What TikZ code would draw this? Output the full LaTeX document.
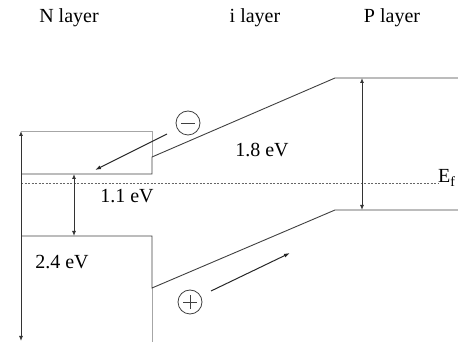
\documentclass[tikz,border=0pt]{standalone}
\usepackage{fontspec}
\setmainfont{Liberation Serif}
\usetikzlibrary{arrows.meta}
\begin{document}
\begin{tikzpicture}[x=1pt,y=-1pt,
  band/.style={draw=black!75,line width=0.9pt},
  boxline/.style={draw=black!35,line width=0.9pt},
  dim/.style={draw=black!80,line width=0.9pt,{Latex[length=5pt,width=4pt]}-{Latex[length=5pt,width=4pt]}},
  carrier/.style={draw=black!85,line width=1pt,-{Latex[length=6pt,width=4pt]}},
  lbl/.style={font=\fontsize{20}{22}\selectfont,inner sep=0pt},
  charge/.style={circle,draw=black!75,line width=0.8pt,minimum size=24pt,inner sep=0pt}]
\useasboundingbox (0,0) rectangle (458,344);
% titles
\node[lbl] (tN) at (69,18) {N layer};
\node[lbl] (tI) at (255,18) {i layer};
\node[lbl] (tP) at (392,18) {P layer};
% coordinates
\coordinate (ntop) at (21,131);
\coordinate (nbot) at (21,341);
\coordinate (boxtr) at (152,131);
\coordinate (cbL) at (21,174);
\coordinate (cbR) at (152,174);
\coordinate (cbS) at (152,157);
\coordinate (cbP) at (335,78);
\coordinate (cbE) at (458,78);
\coordinate (vbL) at (21,236);
\coordinate (vbR) at (152,236);
\coordinate (vbS) at (152,288);
\coordinate (vbB) at (152,342);
\coordinate (vbP) at (335,210);
\coordinate (vbE) at (458,210);
\coordinate (efL) at (21,183);
\coordinate (efR) at (438,183);
\coordinate (d1t) at (74,174);
\coordinate (d1b) at (74,236);
\coordinate (d2t) at (362,78);
\coordinate (d2b) at (362,210);
% grey box outline
\draw[boxline] (ntop) -- (boxtr) -- (cbS);
\draw[boxline] (vbS) -- (vbB);
% bands
\draw[band] (cbL) -- (cbR) -- (cbS) -- (cbP) -- (cbE);
\draw[band] (vbL) -- (vbR) -- (vbS) -- (vbP) -- (vbE);
% Fermi level
\draw[draw=black!60,line width=0.8pt,dash pattern=on 2pt off 1.5pt] (efL) -- (efR);
\node[lbl,anchor=west] (ef) at (438,178) {E\textsubscript{f}};
% dimension arrows
\draw[dim] (ntop) -- (nbot);
\draw[dim] (d1t) -- (d1b);
\draw[dim] (d2t) -- (d2b);
% labels
\node[lbl] (l11) at (127,196) {1.1 eV};
\node[lbl] (l24) at (62,262) {2.4 eV};
\node[lbl] (l18) at (262,150) {1.8 eV};
% carriers
\node[charge] (minus) at (188,123) {};
\draw[black!75,line width=0.8pt] ([xshift=-7pt]minus.center) -- ([xshift=7pt]minus.center);
\node[charge] (plus) at (190,302) {};
\draw[black!75,line width=0.8pt] ([xshift=-7pt]plus.center) -- ([xshift=7pt]plus.center);
\draw[black!75,line width=0.8pt] ([yshift=-7pt]plus.center) -- ([yshift=7pt]plus.center);
\coordinate (mA) at (167,134);
\coordinate (mB) at (95,170);
\coordinate (pA) at (211,291);
\coordinate (pB) at (290,253);
\draw[carrier] (mA) -- (mB);
\draw[carrier] (pA) -- (pB);
\end{tikzpicture}
\end{document}
